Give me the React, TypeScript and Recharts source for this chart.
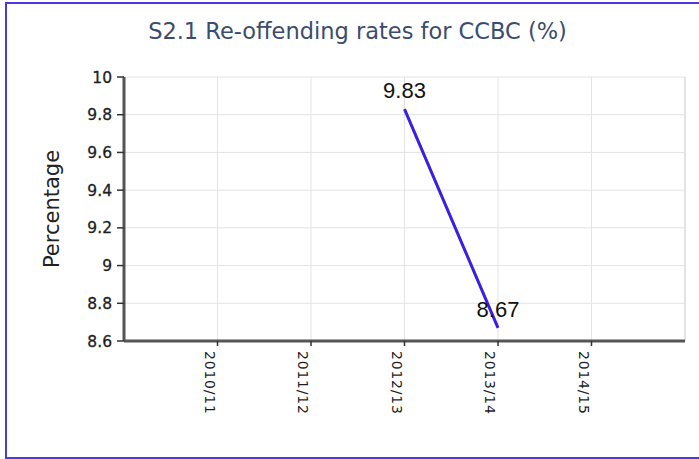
import React from "react";
import { LineChart, Line, XAxis, YAxis, CartesianGrid, ReferenceLine, LabelList, Label } from "recharts";

const categories = ["2010/11", "2011/12", "2012/13", "2013/14", "2014/15"];
const rates: (number | null)[] = [null, null, 9.83, 8.67, null];
const yTicks = [8.6, 8.8, 9, 9.2, 9.4, 9.6, 9.8, 10];

const data = categories.map((c, i) => ({ x: i + 1, cat: c, value: rates[i] }));
const xTicks = categories.map((_, i) => i + 1);

const FONT = "'DejaVu Sans', Verdana, sans-serif";

const XTick = (props: any) => {
  const { x, y, payload } = props;
  return (
    <text x={x} y={y} transform={`rotate(90 ${x} ${y})`} dx={3} dy={13} textAnchor="start" fontSize={14} letterSpacing={0.8} fontFamily={FONT} fill="#1e1e1e">
      {categories[payload.value - 1]}
    </text>
  );
};

export default function App() {
  return (
    <div style={{ position: "absolute", left: 0, top: 0, width: 699, height: 459, background: "#fff", overflow: "hidden" }}>
      <div style={{ position: "absolute", left: 5, top: 2, width: 710, height: 453, border: "2px solid #4a3ae0", boxSizing: "content-box" }} />
      <div style={{ position: "absolute", left: 0, top: 18, width: 715, textAlign: "center", fontFamily: FONT, fontSize: 22.5, color: "#3b4d6e", whiteSpace: "nowrap" }}>
        S2.1 Re-offending rates for CCBC (%)
      </div>
      <div style={{ position: "absolute", left: 0, top: 0 }}>
        <LineChart width={699} height={459} data={data} margin={{ top: 77, right: 14, left: 0, bottom: 0 }}>
          <CartesianGrid stroke="#e3e3e3" strokeWidth={1} />
          <ReferenceLine x={6} stroke="#e3e3e3" strokeWidth={2} />
          <XAxis
            dataKey="x"
            type="number"
            domain={[0, 6]}
            ticks={xTicks}
            height={118}
            axisLine={{ stroke: "#555", strokeWidth: 3 }}
            tickLine={{ stroke: "#333", strokeWidth: 1.5 }}
            tickSize={5}
            tick={<XTick />}
            interval={0}
          />
          <YAxis
            type="number"
            domain={[8.6, 10]}
            ticks={yTicks}
            width={124}
            axisLine={{ stroke: "#555", strokeWidth: 3 }}
            tickLine={{ stroke: "#333", strokeWidth: 1.5 }}
            tickSize={7}
            tickMargin={5}
            tick={{ fontSize: 15.5, fontFamily: FONT, fill: "#1e1e1e", stroke: "#1e1e1e", strokeWidth: 0.3 }}
            tickFormatter={(v: number) => String(Number(v.toFixed(1)))}
            interval={0}
          >
            <Label
              value="Percentage"
              angle={-90}
              position="insideLeft"
              offset={0}
              content={(p: any) => {
                const vb = p.viewBox;
                const cx = 52;
                const cy = vb.y + vb.height / 2;
                return (
                  <text x={cx} y={cy} transform={`rotate(-90 ${cx} ${cy})`} textAnchor="middle" dominantBaseline="central" fontSize={21} fontFamily={FONT} fill="#222">
                    Percentage
                  </text>
                );
              }}
            />
          </YAxis>
          <Line
            type="linear"
            dataKey="value"
            stroke="#3a1fe0"
            strokeWidth={3}
            dot={false}
            activeDot={false}
            connectNulls={false}
            isAnimationActive={false}
          >
            <LabelList dataKey="value" position="top" offset={11} fontSize={22} fontFamily="'Liberation Sans', Arial, sans-serif" fill="#111" />
          </Line>
        </LineChart>
      </div>
    </div>
  );
}
